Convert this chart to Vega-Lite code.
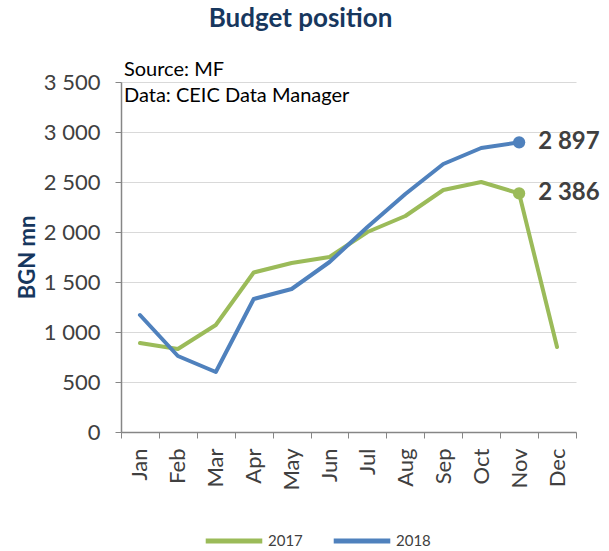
{
  "$schema": "https://vega.github.io/schema/vega-lite/v6.json",
  "width": 455,
  "height": 350,
  "autosize": "none",
  "padding": {"left": 121, "top": 82, "right": 33, "bottom": 119},
  "config": {
    "locale": {"number": {"decimal": ".", "thousands": " ", "grouping": [3], "currency": ["", ""]}},
    "font": "Lato",
    "view": {"stroke": null}
  },
  "title": {
    "text": "Budget position",
    "fontSize": 26,
    "fontWeight": "bold",
    "color": "#17375E",
    "anchor": "middle",
    "dx": -48,
    "offset": 28,
    "font": "Lato"
  },
  "datasets": {
    "series": [
      {"month": "Jan", "year": "2017", "value": 890},
      {"month": "Feb", "year": "2017", "value": 830},
      {"month": "Mar", "year": "2017", "value": 1070},
      {"month": "Apr", "year": "2017", "value": 1595},
      {"month": "May", "year": "2017", "value": 1690},
      {"month": "Jun", "year": "2017", "value": 1750},
      {"month": "Jul", "year": "2017", "value": 2000},
      {"month": "Aug", "year": "2017", "value": 2160},
      {"month": "Sep", "year": "2017", "value": 2420},
      {"month": "Oct", "year": "2017", "value": 2500},
      {"month": "Nov", "year": "2017", "value": 2386},
      {"month": "Dec", "year": "2017", "value": 850},
      {"month": "Jan", "year": "2018", "value": 1170},
      {"month": "Feb", "year": "2018", "value": 760},
      {"month": "Mar", "year": "2018", "value": 600},
      {"month": "Apr", "year": "2018", "value": 1330},
      {"month": "May", "year": "2018", "value": 1430},
      {"month": "Jun", "year": "2018", "value": 1700},
      {"month": "Jul", "year": "2018", "value": 2050},
      {"month": "Aug", "year": "2018", "value": 2380},
      {"month": "Sep", "year": "2018", "value": 2680},
      {"month": "Oct", "year": "2018", "value": 2840},
      {"month": "Nov", "year": "2018", "value": 2897}
    ],
    "ends": [
      {"month": "Nov", "year": "2017", "value": 2386},
      {"month": "Nov", "year": "2018", "value": 2897}
    ],
    "notes": [
      {"month": "Jan", "value": 3620, "note": "Source: MF"},
      {"month": "Jan", "value": 3360, "note": "Data: CEIC Data Manager"}
    ]
  },
  "layer": [
    {
      "data": {"name": "series"},
      "mark": {"type": "line", "strokeWidth": 4, "strokeCap": "round", "strokeJoin": "round"},
      "encoding": {
        "x": {
          "field": "month", "type": "nominal",
          "sort": ["Jan","Feb","Mar","Apr","May","Jun","Jul","Aug","Sep","Oct","Nov","Dec"],
          "scale": {"paddingInner": 0, "paddingOuter": 0, "domain": ["Jan","Feb","Mar","Apr","May","Jun","Jul","Aug","Sep","Oct","Nov","Dec"]},
          "axis": {
            "title": null,
            "labelAngle": -90,
            "labelAlign": "right",
            "labelBaseline": "middle",
            "labelFontSize": 22,
            "labelColor": "#404040",
            "labelPadding": 10,
            "tickBand": "extent",
            "tickSize": 6,
            "tickColor": "#868686",
            "domainColor": "#868686",
            "domainWidth": 1.5,
            "grid": false
          }
        },
        "y": {
          "field": "value", "type": "quantitative",
          "scale": {"domain": [0, 3500], "nice": false},
          "axis": {
            "title": "BGN mn",
            "titleFontSize": 22,
            "titleFontWeight": "bold",
            "titleColor": "#17375E",
            "titlePadding": 4,
            "values": [0, 500, 1000, 1500, 2000, 2500, 3000, 3500],
            "format": ",d",
            "labelFontSize": 22,
            "labelColor": "#404040",
            "labelPadding": 15,
            "tickSize": 6,
            "tickColor": "#868686",
            "domainColor": "#868686",
            "domainWidth": 1.5,
            "gridColor": "#D9D9D9",
            "gridWidth": 1.2
          }
        },
        "color": {
          "field": "year", "type": "nominal",
          "scale": {"domain": ["2017", "2018"], "range": ["#9BBB59", "#4F81BD"]},
          "legend": {
            "title": null,
            "orient": "none",
            "legendX": 82,
            "legendY": 428,
            "direction": "horizontal",
            "symbolType": "stroke",
            "symbolStrokeWidth": 5,
            "symbolSize": 3200,
            "labelFontSize": 15,
            "labelColor": "#404040",
            "labelOffset": 3,
            "columnPadding": 20
          }
        }
      }
    },
    {
      "data": {"name": "ends"},
      "mark": {"type": "point", "filled": true, "size": 150, "opacity": 1},
      "encoding": {
        "x": {"field": "month", "type": "nominal", "sort": ["Jan","Feb","Mar","Apr","May","Jun","Jul","Aug","Sep","Oct","Nov","Dec"]},
        "y": {"field": "value", "type": "quantitative"},
        "color": {"field": "year", "type": "nominal", "legend": null}
      }
    },
    {
      "data": {"name": "ends"},
      "mark": {"type": "text", "align": "left", "baseline": "middle", "dx": 19, "fontSize": 24, "fontWeight": "bold", "color": "#404040"},
      "encoding": {
        "x": {"field": "month", "type": "nominal", "sort": ["Jan","Feb","Mar","Apr","May","Jun","Jul","Aug","Sep","Oct","Nov","Dec"]},
        "y": {"field": "value", "type": "quantitative"},
        "text": {"field": "value", "type": "quantitative", "format": ",d"}
      }
    },
    {
      "data": {"name": "notes"},
      "mark": {"type": "text", "align": "left", "baseline": "middle", "dx": -16, "fontSize": 20, "color": "#000000"},
      "encoding": {
        "x": {"field": "month", "type": "nominal", "sort": ["Jan","Feb","Mar","Apr","May","Jun","Jul","Aug","Sep","Oct","Nov","Dec"]},
        "y": {"field": "value", "type": "quantitative"},
        "text": {"field": "note", "type": "nominal"}
      }
    }
  ]
}
